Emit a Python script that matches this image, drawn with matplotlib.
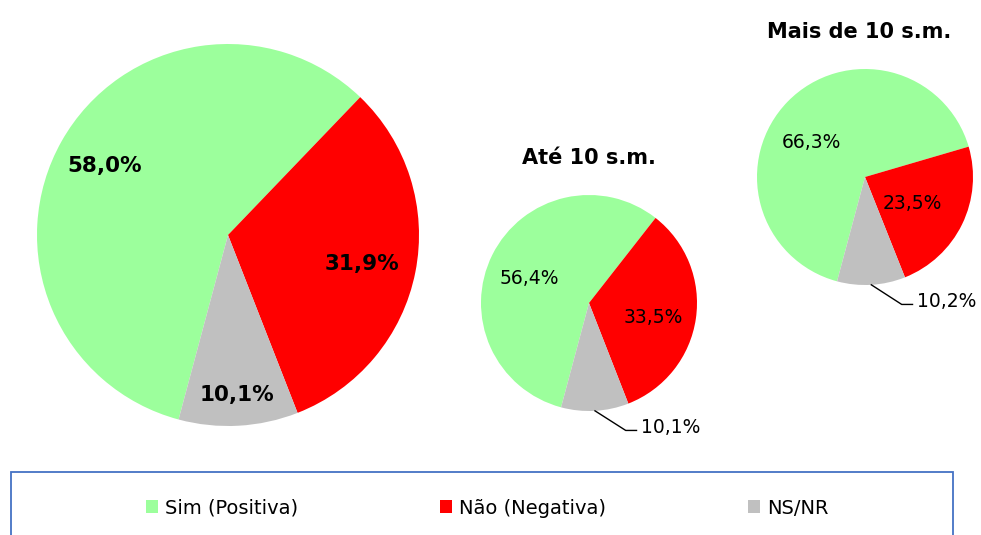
import matplotlib
matplotlib.use('Agg')
import matplotlib.pyplot as plt
import numpy as np
from matplotlib.patches import Patch, Rectangle

categorias = ['Sim (Positiva)', 'Não (Negativa)', 'NS/NR']
total = [58.0, 31.9, 10.1]
ate_10 = [56.4, 33.5, 10.1]
mais_10 = [66.3, 23.5, 10.2]
titulos = ['Até 10 s.m.', 'Mais de 10 s.m.']
cores = ['#9CFF9C', '#FF0000', '#C0C0C0']

W, H = 981, 535
fig = plt.figure(figsize=(W/100, H/100), dpi=100)


def eixo(cx, cy, r):
    # pixel center / radius -> axes box
    return fig.add_axes([(cx-r)/W, (H-cy-r)/H, 2*r/W, 2*r/H])


def fmt(v):
    return f'{v:.1f}%'.replace('.', ',')


def pizza(ax, vals, pos, negrito, tam):
    wedges, _ = ax.pie(vals, colors=cores, startangle=-105, counterclock=False,
                       radius=1, wedgeprops=dict(linewidth=0))
    ax.set_xlim(-1, 1)
    ax.set_ylim(-1, 1)
    peso = 'bold' if negrito else 'normal'
    for i, (w, v) in enumerate(zip(wedges, vals)):
        meio = (w.theta1 + w.theta2) / 2
        if pos[i] is None:
            # label outside with leader line
            a = np.deg2rad(meio)
            x0, y0 = np.cos(a), np.sin(a)
            ax.plot([x0, 0.34, 0.44], [y0, -1.18, -1.18], color='black',
                    lw=1, clip_on=False)
            ax.text(0.48, -1.15, fmt(v), ha='left', va='center',
                    fontsize=tam, fontweight=peso)
        else:
            r, d = pos[i]
            a = np.deg2rad(meio + d)
            ax.text(r*np.cos(a), r*np.sin(a), fmt(v), ha='center', va='center',
                    fontsize=tam, fontweight=peso)


ax1 = eixo(228, 235, 191)
pizza(ax1, total, [(0.74, 0), (0.72, -1), (0.84, 0)], True, 15.5)

ax2 = eixo(589, 303, 108)
pizza(ax2, ate_10, [(0.60, 4), (0.61, -4), None], False, 13.5)
ax2.text(0, 1.34, titulos[0], ha='center', va='center', fontsize=15, fontweight='bold')

ax3 = eixo(865, 177, 108)
pizza(ax3, mais_10, [(0.59, 12), (0.50, -3), None], False, 13.5)
ax3.text(-0.05, 1.34, titulos[1], ha='center', va='center', fontsize=15, fontweight='bold')

# legend box
fig.patches.append(Rectangle((11/W, -0.05), (953-11)/W, (H-472)/H + 0.05,
                             transform=fig.transFigure, fill=False,
                             edgecolor='#4472C4', linewidth=1.3))
handles = [Patch(facecolor=c, edgecolor='none', label=l) for c, l in zip(cores, categorias)]
fig.legend(handles=handles, loc='center', bbox_to_anchor=(487/W, (H-508)/H),
           ncol=3, frameon=False, fontsize=14, handlelength=0.62,
           handleheight=0.62, handletextpad=0.36, columnspacing=7.3)

fig.savefig('out.png', dpi=100)
